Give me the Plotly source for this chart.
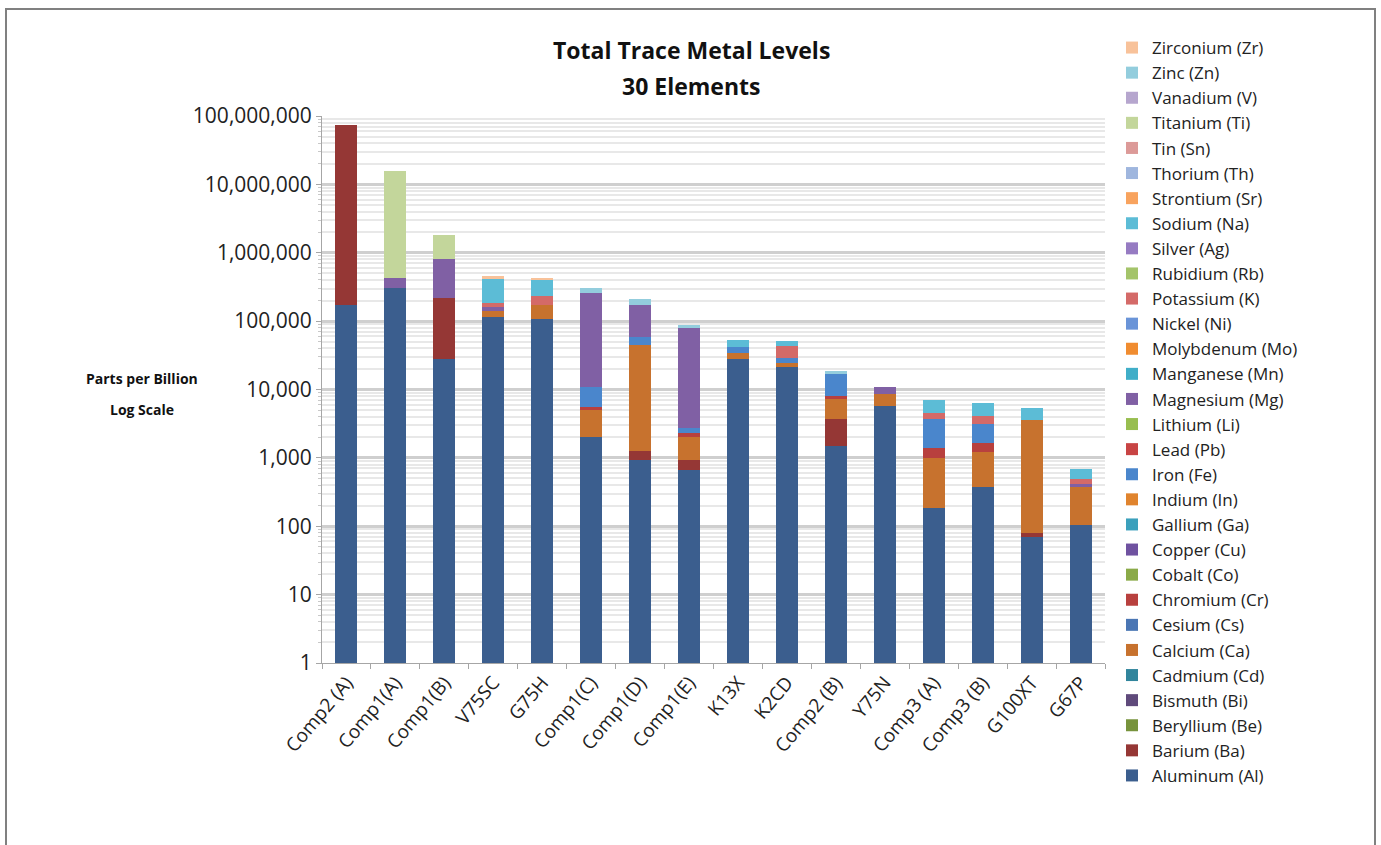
import plotly.graph_objects as go

categories = ["Comp2 (A)", "Comp1(A)", "Comp1(B)", "V75SC", "G75H", "Comp1(C)", "Comp1(D)",
              "Comp1(E)", "K13X", "K2CD", "Comp2 (B)", "Y75N", "Comp3 (A)", "Comp3 (B)",
              "G100XT", "G67P"]

aluminum   = [171000, 310000, 27600, 116000, 106000, 2000, 930, 660, 27600, 21500, 1500, 5720, 182, 380, 69, 104]
barium     = [72800000, 0, 187000, 0, 0, 0, 330, 270, 0, 0, 2190, 0, 0, 0, 11, 0]
calcium    = [0, 0, 0, 24000, 69000, 3000, 43300, 1110, 6800, 3100, 3470, 2810, 800, 850, 3470, 271]
chromium   = [0, 0, 0, 0, 0, 600, 0, 240, 0, 0, 820, 0, 390, 430, 0, 0]
iron       = [0, 0, 0, 0, 0, 5100, 13300, 410, 7600, 3900, 8600, 0, 2290, 1510, 0, 0]
magnesium  = [0, 120000, 590000, 22000, 0, 248000, 113000, 77200, 0, 0, 0, 2500, 0, 0, 0, 45]
potassium  = [0, 0, 0, 22000, 59000, 0, 0, 0, 0, 14500, 0, 0, 900, 950, 0, 65]
sodium     = [0, 0, 0, 236000, 171000, 0, 0, 0, 10600, 8000, 0, 0, 2440, 2280, 1750, 200]
titanium   = [0, 15170000, 1000000, 0, 0, 0, 0, 0, 0, 0, 0, 0, 0, 0, 0, 0]
zinc       = [0, 0, 0, 0, 0, 51000, 38000, 7100, 0, 0, 2000, 0, 0, 0, 0, 0]
zirconium  = [0, 0, 0, 35000, 15000, 0, 0, 0, 0, 0, 0, 0, 0, 0, 0, 0]
zeros      = [0] * 16

elements = ["Aluminum (Al)", "Barium (Ba)", "Beryllium (Be)", "Bismuth (Bi)", "Cadmium (Cd)",
            "Calcium (Ca)", "Cesium (Cs)", "Chromium (Cr)", "Cobalt (Co)", "Copper (Cu)",
            "Gallium (Ga)", "Indium (In)", "Iron (Fe)", "Lead (Pb)", "Lithium (Li)",
            "Magnesium (Mg)", "Manganese (Mn)", "Molybdenum (Mo)", "Nickel (Ni)", "Potassium (K)",
            "Rubidium (Rb)", "Silver (Ag)", "Sodium (Na)", "Strontium (Sr)", "Thorium (Th)",
            "Tin (Sn)", "Titanium (Ti)", "Vanadium (V)", "Zinc (Zn)", "Zirconium (Zr)"]

colors = ["#3B5E8E", "#953735", "#77933C", "#5F4A7B", "#31859C",
          "#C7722E", "#4A76B4", "#B8403E", "#8AAA48", "#6F52A0",
          "#3BA0BC", "#E0842E", "#4A86CC", "#C84444", "#98BE50",
          "#8060A4", "#40AEC8", "#F08C30", "#6A94D8", "#D46A68",
          "#A4C46A", "#967BC2", "#5CBCD6", "#F8A35E", "#9FB6DE",
          "#DC9A98", "#C3D69B", "#B6A6CE", "#93CDDD", "#F8C29A"]

values = {
    "Aluminum (Al)": aluminum, "Barium (Ba)": barium, "Calcium (Ca)": calcium,
    "Chromium (Cr)": chromium, "Iron (Fe)": iron, "Magnesium (Mg)": magnesium,
    "Potassium (K)": potassium, "Sodium (Na)": sodium, "Titanium (Ti)": titanium,
    "Zinc (Zn)": zinc, "Zirconium (Zr)": zirconium,
}

tick_vals = [1, 10, 100, 1000, 10000, 100000, 1000000, 10000000, 100000000]
tick_text = ["1", "10", "100", "1,000", "10,000", "100,000", "1,000,000", "10,000,000", "100,000,000"]

FONT = "Open Sans"
W, H = 1381, 845
ML, MR, MT, MB = 322, 276, 116, 182
PW, PH = W - ML - MR, H - MT - MB

fig = go.Figure()
for name, col in zip(elements, colors):
    fig.add_trace(go.Bar(
        x=categories, y=values.get(name, zeros), name=name,
        marker=dict(color=col, line=dict(width=0)),
    ))

def px_x(px):
    return (px - ML) / PW

def px_y(py):
    return (H - MB - py) / PH

fig.update_layout(
    width=W, height=H,
    margin=dict(l=ML, r=MR, t=MT, b=MB, pad=0),
    barmode="stack", bargap=0.55,
    plot_bgcolor="white", paper_bgcolor="white",
    font=dict(family=FONT, color="#222222"),
    showlegend=True,
    legend=dict(
        x=px_x(1112), y=px_y(30), xanchor="left", yanchor="top",
        traceorder="reversed", maxheight=800,
        font=dict(family=FONT, size=17, color="#222222"),
        itemwidth=30, bgcolor="rgba(0,0,0,0)",
    ),
    xaxis=dict(
        type="category", tickangle=-50,
        tickfont=dict(family=FONT, size=19, color="#222222"),
        showline=True, linecolor="#a6a6a6", linewidth=1,
        ticks="outside", tickson="boundaries", ticklen=5, tickcolor="#a6a6a6",
        showgrid=False,
    ),
    yaxis=dict(
        type="log", range=[0, 8],
        tickvals=tick_vals, ticktext=tick_text,
        tickfont=dict(family=FONT, size=21, color="#222222"),
        showline=True, linecolor="#a6a6a6", linewidth=1,
        ticks="outside", ticklen=5, tickcolor="#a6a6a6",
        showgrid=True, gridcolor="#cfcfcf", gridwidth=3,
        zeroline=False,
        minor=dict(dtick="D1", showgrid=True, gridcolor="#e8e8e8", gridwidth=2,
                   ticks="outside", ticklen=3, tickcolor="#c8c8c8"),
    ),
    annotations=[
        dict(text="<b>Total Trace Metal Levels</b>", xref="paper", yref="paper",
             x=px_x(691), y=px_y(50), xanchor="center", yanchor="middle", showarrow=False,
             font=dict(family=FONT, size=23, color="#111111")),
        dict(text="<b>30 Elements</b>", xref="paper", yref="paper",
             x=px_x(691), y=px_y(86), xanchor="center", yanchor="middle", showarrow=False,
             font=dict(family=FONT, size=23, color="#111111")),
        dict(text="<b>Parts per Billion</b>", xref="paper", yref="paper",
             x=px_x(142), y=px_y(378), xanchor="center", yanchor="middle", showarrow=False,
             font=dict(family=FONT, size=14, color="#111111")),
        dict(text="<b>Log Scale</b>", xref="paper", yref="paper",
             x=px_x(142), y=px_y(409), xanchor="center", yanchor="middle", showarrow=False,
             font=dict(family=FONT, size=14, color="#111111")),
    ],
    shapes=[
        dict(type="rect", xref="paper", yref="paper",
             x0=px_x(6), x1=px_x(1375), y0=px_y(850), y1=px_y(9),
             line=dict(color="#808080", width=2), fillcolor="rgba(0,0,0,0)", layer="below"),
    ],
)

fig.write_html("out.html")
